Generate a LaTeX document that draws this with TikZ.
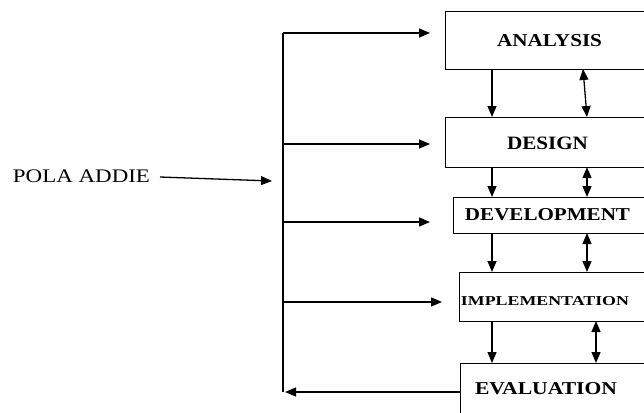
\documentclass[tikz,border=0pt]{standalone}
\usepackage{fontspec}
\setmainfont{Liberation Serif}
\usetikzlibrary{arrows.meta,calc}
\newcommand{\fitlabel}[3]{\resizebox{#1pt}{#2pt}{#3}}
\begin{document}
\begin{tikzpicture}[x=1pt,y=-1pt,
  box/.style={draw,line width=1pt,inner sep=0pt,outer sep=0pt,anchor=north west},
  lbl/.style={inner sep=0pt,outer sep=0pt,font=\bfseries},
  ln/.style={line width=1.3pt},
  arr/.style={line width=1.3pt,-{Triangle[length=11pt,width=9pt]}},
  dbl/.style={line width=1.3pt,{Triangle[length=11pt,width=9pt]}-{Triangle[length=11pt,width=9pt]}}]
\useasboundingbox (0,0) rectangle (644,412);
\clip (0,0) rectangle (644,412);
% boxes
\node[box,minimum width=215pt,minimum height=57pt] (ana) at (445,12) {};
\node[box,minimum width=215pt,minimum height=50pt] (des) at (445,117) {};
\node[box,minimum width=207pt,minimum height=36pt] (dev) at (453,197) {};
\node[box,minimum width=201pt,minimum height=49pt] (imp) at (459,272) {};
\node[box,minimum width=200pt,minimum height=60pt] (eva) at (460,363) {};
% labels
\node[lbl] (tana) at (549.5,41) {\fitlabel{105}{12}{ANALYSIS}};
\node[lbl] (tdes) at (547.5,143.5) {\fitlabel{81}{12.5}{DESIGN}};
\node[lbl] (tdev) at (547.5,215) {\fitlabel{165}{12}{DEVELOPMENT}};
\node[lbl] (timp) at (545,301) {\fitlabel{168}{9}{IMPLEMENTATION}};
\node[lbl] (teva) at (546,389) {\fitlabel{142}{12}{EVALUATION}};
\node[inner sep=0pt,outer sep=0pt] (pola) at (81.5,176.5) {\fitlabel{137}{12.7}{POLA ADDIE}};
% bus coordinates
\coordinate (bt) at (283,33);
\coordinate (b2) at (284,144);
\coordinate (b3) at (284,222);
\coordinate (b4) at (282,302);
\coordinate (bb) at (283,392);
\coordinate (in1) at (272,181);
\coordinate (ps) at (160,177);
% feed arrows
\draw[arr] (ps) -- (in1);
\draw[ln] (bb) -- (bt);
\draw[arr] (bt) -- ($(bt -| ana.west)+(-15,0)$);
\draw[arr] (b2) -- ($(b2 -| des.west)+(-15,0)$);
\draw[arr] (b3) -- ($(b3 -| dev.west)+(-23,0)$);
\draw[arr] (b4) -- ($(b4 -| imp.west)+(-17,0)$);
\draw[arr] (eva.west |- bb) -- ($(bb)+(2,0)$);
% down arrows
\coordinate (L) at (492,0);
\coordinate (R1) at (583,0);
\coordinate (R1b) at (587,0);
\coordinate (R2) at (587,0);
\coordinate (R4) at (596,0);
\draw[arr] (ana.south -| L) -- (des.north -| L);
\draw[dbl] (ana.south -| R1) -- (des.north -| R1b);
\draw[arr] (des.south -| L) -- (dev.north -| L);
\draw[dbl] (des.south -| R2) -- (dev.north -| R2);
\draw[arr] (dev.south -| L) -- (imp.north -| L);
\draw[dbl] (dev.south -| R2) -- (imp.north -| R2);
\draw[arr] (imp.south -| L) -- (eva.north -| L);
\draw[dbl] (imp.south -| R4) -- (eva.north -| R4);
\end{tikzpicture}
\end{document}
